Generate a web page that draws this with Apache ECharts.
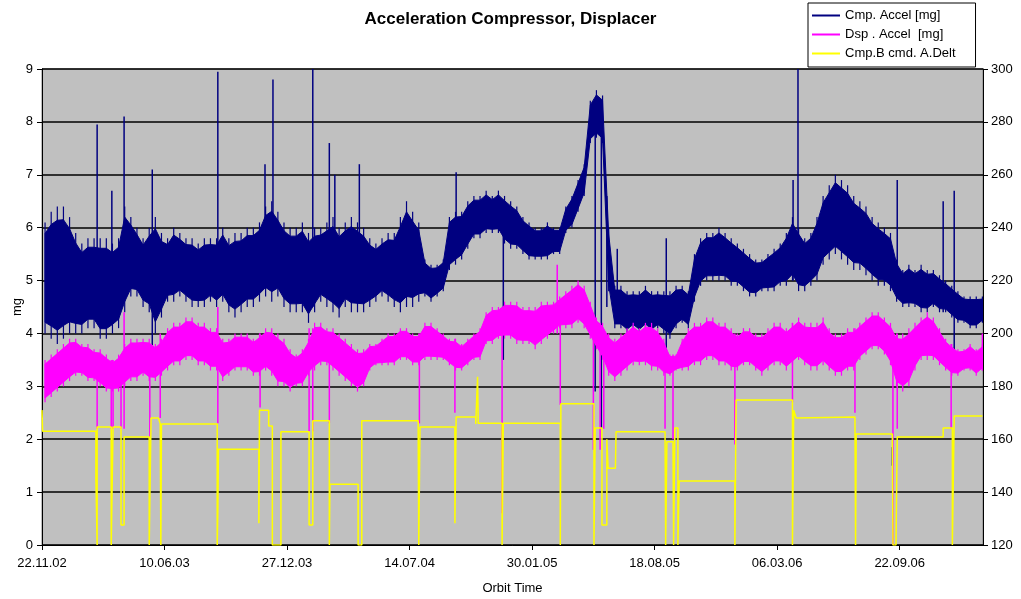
<!DOCTYPE html>
<html>
<head>
<meta charset="utf-8">
<script src="https://cdn.jsdelivr.net/npm/echarts@6/dist/echarts.min.js"></script>
<style>
html,body{margin:0;padding:0;background:#fff;}
#chart{width:1021px;height:599px;}
</style>
</head>
<body>
<div id="chart"></div>
<script>
// ---- data (days since 22.11.02, one sample per 10 days) ----
const sampleStep = 10;
const xTickLabels = ['22.11.02','10.06.03','27.12.03','14.07.04','30.01.05','18.08.05','06.03.06','22.09.06'];

const cmpHigh = [6.1,6.3,6.4,6.4,6.2,5.9,5.7,5.8,5.8,5.8,5.8,5.7,5.8,6.4,6.2,6.0,5.8,6.0,6.2,5.9,
5.8,6.0,5.9,5.8,5.8,5.7,5.8,5.8,5.8,6.0,5.8,5.9,5.9,6.0,6.0,6.1,6.4,6.5,6.3,6.1,
6.0,6.0,6.1,5.9,6.0,6.0,6.1,6.2,6.0,6.1,6.2,6.1,6.0,5.8,5.7,5.8,5.9,5.9,6.2,6.5,
6.3,6.1,5.4,5.3,5.3,5.4,6.2,6.3,6.3,6.5,6.6,6.6,6.7,6.6,6.7,6.6,6.5,6.4,6.2,6.1,
6.0,6.0,6.1,6.0,6.0,6.4,6.6,6.9,7.2,8.4,8.6,8.5,6.0,4.9,4.9,4.8,4.8,4.8,4.9,4.8,
4.8,4.8,4.8,4.9,4.9,4.8,5.5,5.8,5.9,5.9,6.0,5.9,5.8,5.7,5.6,5.5,5.4,5.4,5.5,5.6,
5.7,5.9,6.2,6.0,5.8,5.9,6.2,6.6,6.8,7.0,6.9,6.8,6.6,6.5,6.4,6.2,6.1,6.0,5.9,5.4,
5.2,5.3,5.2,5.3,5.2,5.2,5.1,5.0,4.9,4.8,4.7,4.7,4.7,4.7];
const cmpLow = [4.0,3.9,3.8,3.9,4.0,4.0,4.0,4.1,4.1,3.9,3.9,4.0,4.1,4.4,4.7,4.7,4.5,4.4,4.0,4.3,
4.6,4.6,4.7,4.6,4.5,4.5,4.5,4.6,4.5,4.6,4.4,4.3,4.4,4.5,4.5,4.6,4.7,4.6,4.7,4.5,
4.4,4.4,4.4,4.2,4.4,4.6,4.5,4.4,4.3,4.5,4.4,4.4,4.4,4.5,4.6,4.7,4.6,4.5,4.4,4.5,
4.5,4.6,4.7,4.6,4.7,4.8,5.2,5.3,5.4,5.6,5.8,5.8,5.9,5.9,5.9,5.7,5.6,5.6,5.5,5.4,
5.4,5.4,5.4,5.5,5.5,5.9,6.0,6.3,6.6,7.6,7.7,7.6,4.8,4.1,4.1,4.0,4.1,4.0,4.1,4.0,
4.1,4.0,3.9,4.1,4.2,4.1,4.6,4.9,5.0,5.0,5.0,5.0,4.9,4.9,4.8,4.7,4.7,4.8,4.8,4.8,
4.9,4.9,5.0,4.8,4.8,4.9,5.0,5.3,5.4,5.5,5.4,5.3,5.2,5.2,5.1,5.0,4.9,4.9,4.8,4.6,
4.5,4.5,4.5,4.4,4.4,4.5,4.4,4.4,4.3,4.2,4.2,4.1,4.1,4.2];
// isolated spikes / dips: [day, bottom, top]
const cmpSpikes = [[90,4.5,7.95],[114,4.6,6.7],[134,5.0,8.1],[180,3.6,7.1],[287,5.0,8.95],[364,5.0,7.2],
[377,5.0,8.8],[442,4.5,9.0],[469,5.0,7.6],[478,5.0,7.0],[518,5.0,7.2],[676,5.5,7.05],[753,3.5,6.0],
[903,2.9,8.0],[913,2.2,8.0],[922,4.5,6.6],[939,4.5,5.6],[1019,3.6,5.8],[1226,5.0,6.9],[1234,5.0,9.0],
[1388,1.5,1.85],[1396,4.8,6.9],[1471,4.4,6.5],[1489,3.6,6.7]];

const dspHigh = [3.5,3.6,3.7,3.8,3.9,3.9,3.8,3.8,3.7,3.7,3.6,3.5,3.6,3.8,3.9,3.9,3.9,3.9,3.8,3.9,
4.1,4.2,4.2,4.3,4.3,4.2,4.2,4.1,4.1,3.9,3.9,4.0,4.0,4.0,3.9,4.0,4.1,4.1,4.0,3.9,
3.7,3.6,3.7,3.9,4.2,4.2,4.1,4.1,4.0,3.9,3.8,3.7,3.7,3.8,3.8,3.9,4.0,4.0,4.1,4.1,
4.0,4.0,4.2,4.2,4.1,4.0,3.9,3.9,3.8,3.9,4.0,4.1,4.4,4.5,4.5,4.6,4.6,4.6,4.5,4.5,
4.5,4.6,4.6,4.6,4.7,4.8,4.9,5.0,4.9,4.6,4.3,4.2,4.0,3.9,4.0,4.1,4.2,4.1,4.2,4.2,
4.1,3.9,3.6,3.6,3.9,4.1,4.2,4.2,4.3,4.3,4.2,4.2,4.1,4.0,4.1,4.1,4.0,4.0,4.1,4.2,
4.2,4.1,4.2,4.3,4.2,4.2,4.2,4.3,4.1,4.0,4.0,4.1,4.1,4.2,4.3,4.4,4.4,4.3,4.2,4.0,
4.0,4.1,4.2,4.3,4.4,4.3,4.1,3.9,3.8,3.7,3.7,3.8,3.7,3.8];
const dspLow = [2.7,2.8,2.9,3.0,3.1,3.2,3.2,3.1,3.1,3.0,2.9,2.9,2.9,3.0,3.1,3.1,3.2,3.1,3.1,3.2,
3.3,3.4,3.4,3.5,3.5,3.4,3.4,3.3,3.3,3.1,3.2,3.3,3.3,3.3,3.2,3.2,3.3,3.2,3.0,3.0,
2.9,3.0,3.0,3.2,3.3,3.4,3.4,3.3,3.2,3.1,3.0,2.9,3.0,3.3,3.4,3.4,3.4,3.4,3.5,3.5,
3.4,3.4,3.5,3.5,3.5,3.5,3.4,3.3,3.3,3.4,3.5,3.5,3.8,3.8,3.9,3.9,3.9,3.8,3.8,3.8,
3.7,3.8,3.9,4.0,4.1,4.1,4.1,4.2,4.1,3.9,3.7,3.5,3.2,3.1,3.2,3.3,3.4,3.4,3.4,3.3,
3.3,3.2,3.2,3.3,3.3,3.3,3.4,3.4,3.5,3.5,3.4,3.4,3.3,3.3,3.4,3.4,3.3,3.2,3.3,3.4,
3.4,3.3,3.4,3.5,3.4,3.3,3.3,3.4,3.3,3.2,3.2,3.3,3.3,3.5,3.6,3.7,3.7,3.6,3.4,3.0,
2.9,3.0,3.3,3.5,3.5,3.5,3.4,3.3,3.2,3.2,3.3,3.3,3.2,3.3];
const dspSpikes = [[90,2.2,3.6],[113,2.2,3.5],[116,2.2,3.5],[129,2.2,3.6],[134,2.2,4.4],[176,2.05,3.8],
[193,2.4,4.0],[287,2.3,4.5],[356,2.6,4.0],[436,2.15,4.1],[442,2.15,4.1],[469,2.3,4.0],[616,2.3,4.0],
[674,2.5,3.9],[751,0.6,4.4],[841,4.0,5.3],[846,2.65,4.6],[900,1.8,4.3],[911,1.8,4.2],[917,2.2,4.0],
[1017,2.2,3.7],[1030,2.0,3.6],[1131,1.9,4.0],[1225,2.7,4.2],[1327,2.5,4.1],[1389,0,4.0],
[1396,2.2,4.0],[1484,2.2,3.8],[1535,3.3,4.0]];

// commanded value (right axis), stepwise
const cmdDays = [0,1,1,88,88,89,90,90,113,113,116,116,129,129,134,134,175,175,178,178,190,193,194,194,195,
286,286,287,288,288,354,354,355,370,370,376,376,390,390,436,436,442,442,469,469,470,516,516,522,522,
614,615,617,674,674,676,708,708,711,712,751,751,753,753,846,846,847,901,901,903,914,914,922,922,924,
936,937,1017,1018,1020,1030,1031,1033,1038,1038,1040,1131,1131,1133,1225,1225,1227,1231,1234,1327,1328,
1329,1388,1389,1394,1396,1471,1471,1486,1486,1489,1489,1535];
const cmdValues = [171,171,163,163,145,145,120,164.6,164.6,120,120,164.6,164.6,127.6,127.6,160.8,160.8,120,120,168,168,165.8,165.8,120,165.8,
165.8,120,132.4,132.4,156.2,156.2,128.2,171,171,165,165,120,120,162.8,162.8,127.6,127.6,167,167,120,143,143,120,120,167,
167,120,164.6,164.6,128.2,168.4,168.4,165.8,183.6,166,166,120,120,166,166,120,173.4,173.4,120,164.2,164.2,127.6,127.6,160,149,
149,162.8,162.8,120,159,159,120,164.2,164.2,120,144.2,144.2,120,174.8,174.8,120,171,168,168.4,168.4,120,
162,162,120,120,160.8,160.8,164.2,164.2,120,120,168.8,168.8];

const seriesNames = ['Cmp. Accel [mg]', 'Dsp . Accel  [mg]', 'Cmp.B cmd. A.Delt'];
const colors = ['#000080', '#ff00ff', '#ffff00'];

// ---- build ----
const sampleDays = cmpHigh.map((_, i) => i * sampleStep + sampleStep / 2);
function rows(hi, lo){ return hi.map((h, i) => [sampleDays[i], lo[i], h]); }
// dense core of the band is drawn as one polygon, the full sample range as a hairline
const CORE = 0.1;
function bandSeries(name, hi, lo, color){
  const data = rows(hi, lo);
  return {name:name, type:'custom', clip:true, itemStyle:{color:color},
    encode:{x:0, y:[1,2]}, data:data,
    renderItem:function(params, api){
      const d = api.value(0), l = api.value(1), h = api.value(2);
      const a = api.coord([d, l]), b = api.coord([d, h]);
      const children = [{type:'line', shape:{x1:a[0], y1:a[1], x2:b[0], y2:b[1]},
        style:{stroke:color, lineWidth:1.2}}];
      if (params.dataIndex === 0) {
        const top = data.map(r => api.coord([r[0], r[2] - CORE * (r[2] - r[1])]));
        const bot = data.slice().reverse().map(r => api.coord([r[0], r[1] + CORE * (r[2] - r[1])]));
        children.unshift({type:'polygon', shape:{points: top.concat(bot)},
          style:{fill:color, stroke:color, lineWidth:1}});
      }
      return {type:'group', children:children};
    }};
}
function spikeRender(color){
  return function(params, api){
    const d = api.value(0);
    const a = api.coord([d, api.value(1)]);
    const b = api.coord([d, api.value(2)]);
    return {type:'line', shape:{x1:a[0], y1:a[1], x2:b[0], y2:b[1]},
      style:{stroke:color, lineWidth:1.5}};
  };
}
const FONT = 'Liberation Sans, Arial, sans-serif';

const chart = echarts.init(document.getElementById('chart'), null, {renderer:'canvas'});
chart.setOption({
  animation:false,
  backgroundColor:'#ffffff',
  title:{text:'Acceleration Compressor, Displacer', left:'center', top:6,
    textStyle:{fontFamily:FONT, fontSize:17, fontWeight:'bold', color:'#000'}},
  legend:{
    data:seriesNames, orient:'vertical', left:808, top:3, padding:[6,20,7,4], itemGap:6,
    itemWidth:28, itemHeight:2, icon:'rect',
    backgroundColor:'#ffffff', borderColor:'#000', borderWidth:1, borderRadius:0,
    textStyle:{fontFamily:FONT, fontSize:13, color:'#000'}
  },
  grid:{left:42, right:38, top:69, bottom:54, containLabel:false, outerBoundsMode:'none',
    show:true, backgroundColor:'#c0c0c0', borderColor:'#808080', borderWidth:1},
  xAxis:{
    type:'value', min:0, max:1536, interval:200,
    name:'Orbit Time', nameLocation:'middle', nameGap:37, nameMoveOverlap:false,
    nameTextStyle:{fontFamily:FONT, fontSize:13, color:'#000'},
    axisLine:{show:true, lineStyle:{color:'#000', width:1}},
    axisTick:{show:true, length:5, inside:false, lineStyle:{color:'#000'}},
    splitLine:{show:false},
    axisLabel:{fontFamily:FONT, fontSize:13, color:'#000', margin:12, showMaxLabel:false,
      formatter:function(v){ const k=Math.round(v/200); return (v%200===0 && xTickLabels[k]) ? xTickLabels[k] : ''; }}
  },
  yAxis:[{
    type:'value', min:0, max:9, interval:1, position:'left',
    name:'mg', nameLocation:'middle', nameGap:18, nameRotate:90, nameMoveOverlap:false,
    nameTextStyle:{fontFamily:FONT, fontSize:13, color:'#000'},
    axisLine:{show:true, lineStyle:{color:'#000'}},
    axisTick:{show:true, length:5, lineStyle:{color:'#000'}},
    splitLine:{show:true, lineStyle:{color:'#000', width:1.6}},
    axisLabel:{fontFamily:FONT, fontSize:13, color:'#000', margin:9}
  },{
    type:'value', min:120, max:300, interval:20, position:'right',
    axisLine:{show:true, lineStyle:{color:'#000'}},
    axisTick:{show:true, length:5, lineStyle:{color:'#000'}},
    splitLine:{show:false},
    axisLabel:{fontFamily:FONT, fontSize:13, color:'#000', margin:8}
  }],
  series:[
    bandSeries(seriesNames[0], cmpHigh, cmpLow, colors[0]),
    {name:seriesNames[0], type:'custom', clip:true, itemStyle:{color:colors[0]},
      renderItem:spikeRender(colors[0]), encode:{x:0, y:[1,2]}, data:cmpSpikes},
    bandSeries(seriesNames[1], dspHigh, dspLow, colors[1]),
    {name:seriesNames[1], type:'custom', clip:true, itemStyle:{color:colors[1]},
      renderItem:spikeRender(colors[1]), encode:{x:0, y:[1,2]}, data:dspSpikes},
    {name:seriesNames[2], type:'line', yAxisIndex:1, showSymbol:false, symbol:'none',
      lineStyle:{color:colors[2], width:1.5}, itemStyle:{color:colors[2]},
      data:cmdDays.map((d,i)=>[d, cmdValues[i]])}
  ]
});
</script>
</body>
</html>
